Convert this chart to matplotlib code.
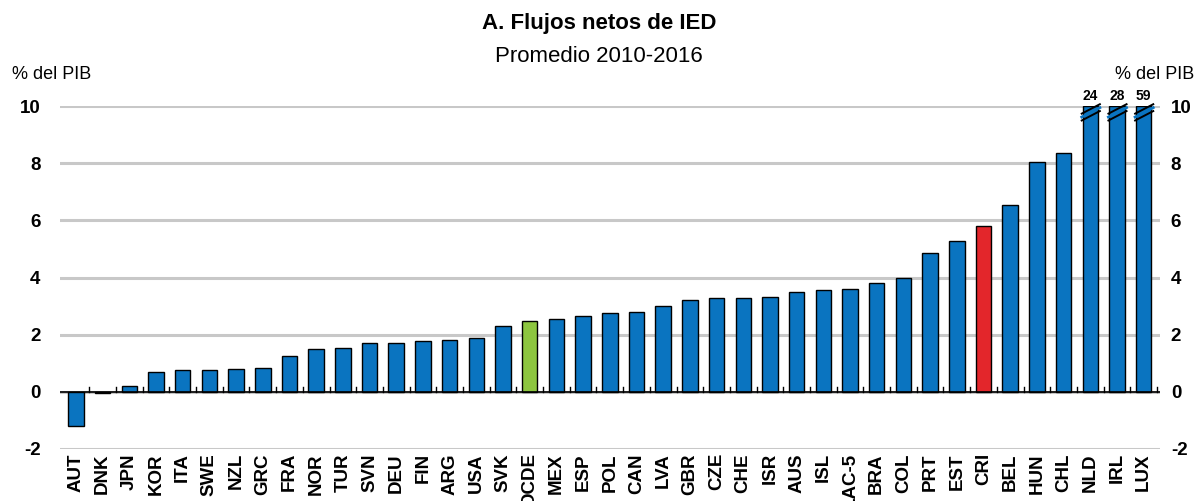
import matplotlib.pyplot as plt
import numpy as np

plt.rcParams['font.family'] = ['Liberation Sans', 'DejaVu Sans']
plt.rcParams['axes.unicode_minus'] = False

countries = ['AUT', 'DNK', 'JPN', 'KOR', 'ITA', 'SWE', 'NZL', 'GRC', 'FRA', 'NOR',
             'TUR', 'SVN', 'DEU', 'FIN', 'ARG', 'USA', 'SVK', 'OCDE', 'MEX', 'ESP',
             'POL', 'CAN', 'LVA', 'GBR', 'CZE', 'CHE', 'ISR', 'AUS', 'ISL', 'LAC-5',
             'BRA', 'COL', 'PRT', 'EST', 'CRI', 'BEL', 'HUN', 'CHL', 'NLD', 'IRL', 'LUX']
values = [-1.2, -0.05, 0.2, 0.7, 0.75, 0.78, 0.8, 0.82, 1.25, 1.5,
          1.55, 1.7, 1.72, 1.78, 1.82, 1.9, 2.3, 2.48, 2.55, 2.65,
          2.75, 2.78, 3.02, 3.2, 3.27, 3.27, 3.33, 3.48, 3.58, 3.6,
          3.8, 4.0, 4.85, 5.27, 5.8, 6.55, 8.05, 8.35, 24, 28, 59]
ymax = 10
ticks = [-2, 0, 2, 4, 6, 8, 10]

blue = '#0A74C0'
colors = []
for c in countries:
    if c == 'OCDE':
        colors.append('#8DC63F')
    elif c == 'CRI':
        colors.append('#E3262B')
    else:
        colors.append(blue)

fig = plt.figure(figsize=(11.98, 5.01), dpi=100)
ax = fig.add_axes([0.05, 0.104, 0.918, 0.684])

x = np.arange(len(countries))
shown = [min(v, ymax) for v in values]
ax.bar(x, shown, width=0.58, color=colors, edgecolor='black', linewidth=1.0, zorder=3)

# break marks and labels for values beyond the axis
for xi, v in zip(x, values):
    if v > ymax:
        for off in (-0.12, 0.12):
            ax.plot([xi - 0.32, xi + 0.36], [ymax - 0.38 + off, ymax - 0.05 + off],
                    color='black', lw=1.4, zorder=5, clip_on=False)
        ax.plot([xi - 0.32, xi + 0.36], [ymax - 0.38, ymax - 0.05],
                color=blue, lw=2.0, zorder=4, clip_on=False)
        ax.text(xi, ymax + 0.12, str(int(v)), ha='center', va='bottom',
                fontsize=10, fontweight='bold')

ax.set_xlim(-0.6, len(countries) - 0.4)
ax.set_ylim(-2, 10)
ax.set_yticks(ticks)
ax.grid(axis='y', color='#C8C8C8', lw=2.2, zorder=0)
ax.axhline(0, color='black', lw=1.2, zorder=4)
for xi in x:
    ax.plot([xi + 0.5, xi + 0.5], [0, 0.18], color='black', lw=1.0, zorder=4)

for s in ax.spines.values():
    s.set_visible(False)
ax.tick_params(axis='y', length=0, labelsize=13.5, pad=14)
ax.tick_params(axis='x', length=0, labelsize=13.5, pad=3)
ax.set_xticks(x)
ax.set_xticklabels(countries, rotation=90, fontweight='bold')
for lab in ax.get_yticklabels():
    lab.set_fontweight('bold')

ax2 = ax.twinx()
ax2.set_ylim(-2, 10)
ax2.set_yticks(ticks)
ax2.tick_params(axis='y', length=0, labelsize=13.5, pad=8)
for lab in ax2.get_yticklabels():
    lab.set_fontweight('bold')
for s in ax2.spines.values():
    s.set_visible(False)

fig.text(0.01, 0.835, '% del PIB', fontsize=13, ha='left', va='bottom')
fig.text(0.997, 0.835, '% del PIB', fontsize=13, ha='right', va='bottom')
fig.text(0.5, 0.954, 'A. Flujos netos de IED', fontsize=16, fontweight='bold',
         ha='center', va='center')
fig.text(0.5, 0.888, 'Promedio 2010-2016', fontsize=16, ha='center', va='center')

fig.savefig('out.png', dpi=100)
